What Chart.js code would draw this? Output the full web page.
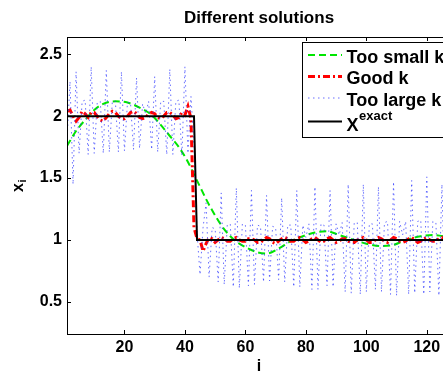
<!DOCTYPE html>
<html>
<head>
<meta charset="utf-8">
<script src="https://cdn.jsdelivr.net/npm/chart.js@4.4.1/dist/chart.umd.min.js"></script>
<style>
  html, body { margin: 0; padding: 0; background: #fff; overflow: hidden; }
  #wrap { width: 443px; height: 372px; overflow: hidden; }
</style>
</head>
<body>
<div id="wrap"><canvas id="chart" width="455" height="372"></canvas></div>
<script>
// ticks
const xTicks = [20, 40, 60, 80, 100, 120];
const yTicks = [0.5, 1, 1.5, 2, 2.5];

// exact solution (step)
const exactI = [1, 43, 44, 128];
const exactX = [2, 2, 1, 1];

// too small k (smooth curve, read at a few points)
const smallI = [1, 4, 7, 10, 13, 17, 21, 25, 29, 32, 35, 38, 41, 43, 45, 47, 49, 52, 55, 58,
  61, 64, 67, 71, 75, 79, 83, 87, 91, 96, 100, 105, 109, 113, 118, 122, 128];
const smallX = [1.76, 1.88, 1.97, 2.05, 2.10, 2.12, 2.11, 2.07, 2.01, 1.93, 1.84, 1.75, 1.63, 1.53, 1.43, 1.33, 1.24, 1.12, 1.03, 0.97,
  0.93, 0.90, 0.89, 0.93, 0.99, 1.03, 1.06, 1.07, 1.04, 1.00, 0.97, 0.95, 0.96, 1.00, 1.03, 1.04, 1.02];

// good k, i = 1..128
const goodX = [
  2.04, 2.05, 2.00, 1.96, 1.99, 2.04, 2.02, 1.99, 2.03, 2.03,
  2.00, 1.97, 1.96, 1.99, 2.02, 2.04, 2.03, 2.00, 1.98, 1.98,
  2.00, 2.03, 2.04, 2.02, 1.99, 1.98, 1.99, 2.02, 2.03, 2.02,
  1.99, 1.98, 2.00, 2.03, 2.03, 2.01, 1.98, 1.99, 2.03, 2.01,
  2.08, 1.98, 1.10, 1.01, 1.00, 0.91, 0.97, 1.02, 1.01, 0.98,
  1.00, 1.02, 1.01, 0.99, 0.99, 1.01, 1.02, 1.00, 0.99, 0.99,
  1.01, 1.01, 1.00, 0.98, 0.98, 1.00, 1.02, 1.01, 0.98, 0.97,
  0.99, 1.01, 1.02, 1.01, 0.99, 0.99, 1.01, 1.02, 1.00, 0.98,
  0.99, 1.01, 1.02, 1.00, 0.98, 0.99, 1.01, 1.02, 1.00, 0.98,
  0.99, 1.01, 1.01, 0.99, 0.98, 0.98, 1.00, 1.01, 1.02, 1.00,
  0.98, 0.98, 1.00, 1.02, 1.01, 0.99, 0.98, 1.00, 1.02, 1.01,
  0.99, 0.98, 0.99, 1.01, 1.02, 1.00, 0.98, 0.99, 1.01, 1.02,
  1.00, 0.99, 0.99, 1.01, 1.02, 1.00, 0.99, 1.01
];

// too large k, i = 1..128
const largeX = [
  1.80, 2.28, 1.45, 2.36, 1.70, 2.12, 2.13, 1.69, 2.40, 1.70,
  2.11, 2.12, 1.70, 2.37, 1.71, 2.12, 2.12, 1.71, 2.36, 1.72,
  2.11, 2.11, 1.73, 2.31, 1.74, 2.10, 2.02, 2.12, 1.73, 2.32,
  1.71, 2.12, 2.12, 1.69, 2.38, 1.69, 2.12, 2.13, 1.68, 2.40,
  1.70, 2.16, 1.75, 1.06, 0.72, 1.10, 1.30, 0.70, 1.10, 1.09,
  0.66, 1.38, 0.64, 1.12, 1.13, 0.62, 1.42, 0.61, 1.13, 1.12,
  0.63, 1.40, 0.64, 1.12, 1.11, 0.66, 1.36, 0.67, 1.11, 1.10,
  0.68, 1.34, 0.66, 1.12, 1.12, 0.62, 1.40, 0.62, 1.12, 1.02,
  1.13, 0.60, 1.43, 0.60, 1.13, 1.12, 0.63, 1.40, 0.62, 1.13,
  1.04, 1.14, 0.58, 1.45, 0.57, 1.14, 1.14, 0.56, 1.45, 0.58,
  1.13, 1.13, 0.60, 1.43, 0.58, 1.14, 1.15, 0.56, 1.47, 0.55,
  1.15, 1.04, 1.15, 0.56, 1.48, 0.57, 1.15, 1.16, 0.56, 1.51,
  0.58, 1.15, 1.14, 0.55, 1.45, 0.50, 1.14, 1.16
];

const idx = goodX.map((v, k) => k + 1);
const pairs = (xs, ys) => xs.map((x, k) => ({ x: x, y: ys[k] }));

const FONT = '"Liberation Sans", Arial, Helvetica, sans-serif';

// box, inward ticks, title, labels and legend
const frame = {
  id: 'frame',
  afterDraw(chart) {
    const c = chart.ctx;
    const a = chart.chartArea;
    const sx = chart.scales.x, sy = chart.scales.y;
    c.save();
    c.strokeStyle = '#000';
    c.lineWidth = 1;
    c.strokeRect(a.left + 0.5, a.top + 0.5, a.right - a.left - 1, a.bottom - a.top);
    c.beginPath();
    xTicks.forEach(v => {
      const px = Math.round(sx.getPixelForValue(v)) + 0.5;
      c.moveTo(px, a.bottom); c.lineTo(px, a.bottom - 4);
      c.moveTo(px, a.top); c.lineTo(px, a.top + 4);
    });
    yTicks.forEach(v => {
      const py = Math.round(sy.getPixelForValue(v)) + 0.5;
      c.moveTo(a.left, py); c.lineTo(a.left + 4, py);
    });
    c.stroke();

    c.fillStyle = '#000';
    // title
    c.font = 'bold 17px ' + FONT;
    c.textAlign = 'center';
    c.textBaseline = 'alphabetic';
    c.fillText('Different solutions', (a.left + a.right) / 2, 23);
    // x label
    c.font = 'bold 16px ' + FONT;
    c.fillText('i', (a.left + a.right) / 2, 371);
    // y label
    c.save();
    c.translate(23, 192);
    c.rotate(-Math.PI / 2);
    c.textAlign = 'left';
    c.fillText('x', 0, 0);
    c.font = 'bold 11px ' + FONT;
    c.fillText('i', 9.5, 3);
    c.restore();

    // legend
    const lx = 302.5, ly = 42.5;
    c.fillStyle = '#fff';
    c.fillRect(lx, ly, 150, 95);
    c.strokeStyle = '#000';
    c.strokeRect(lx, ly, 150, 95);
    const rows = [
      { ds: 0, text: 'Too small k', line: 55, base: 62.5 },
      { ds: 1, text: 'Good k', line: 76.5, base: 84 },
      { ds: 2, text: 'Too large k', line: 98, base: 105.5 },
      { ds: 3, text: 'X', line: 121.5, base: 130.5 }
    ];
    rows.forEach(r => {
      const d = chart.data.datasets[r.ds];
      c.save();
      c.strokeStyle = d.borderColor;
      c.lineWidth = d.borderWidth;
      c.setLineDash(d.borderDash || []);
      c.beginPath();
      c.moveTo(308, r.line); c.lineTo(342, r.line);
      c.stroke();
      c.restore();
      c.fillStyle = '#000';
      c.textAlign = 'left';
      c.font = 'bold 18px ' + FONT;
      c.fillText(r.text, 346.5, r.base);
    });
    c.font = 'bold 13px ' + FONT;
    c.fillText('exact', 359, 120);
    c.restore();
  }
};

new Chart(document.getElementById('chart'), {
  type: 'line',
  data: {
    datasets: [
      {
        label: 'Too small k',
        data: pairs(smallI, smallX),
        borderColor: '#00e600',
        borderWidth: 2,
        borderDash: [7, 4],
        cubicInterpolationMode: 'monotone',
        pointRadius: 0,
        order: 4,
      },
      {
        label: 'Good k',
        data: pairs(idx, goodX),
        borderColor: '#ff0000',
        borderWidth: 3,
        borderDash: [7, 3, 2, 3],
        pointRadius: 0,
        order: 3,
      },
      {
        label: 'Too large k',
        data: pairs(idx, largeX),
        borderColor: 'rgba(40, 50, 255, 0.7)',
        borderWidth: 1,
        borderDash: [1.5, 3.5],
        pointRadius: 0,
        order: 2,
      },
      {
        label: 'Xexact',
        data: pairs(exactI, exactX),
        borderColor: '#000000',
        borderWidth: 2,
        pointRadius: 0,
        order: 1,
      },
    ],
  },
  options: {
    responsive: false,
    animation: false,
    devicePixelRatio: 1,
    layout: { padding: { left: 0, top: 37, right: 4, bottom: 0 } },
    plugins: { legend: { display: false }, tooltip: { enabled: false }, title: { display: false } },
    scales: {
      x: {
        type: 'linear',
        min: 1,
        max: 128,
        afterFit: s => { s.height = 38; },
        afterBuildTicks: s => { s.ticks = xTicks.map(v => ({ value: v })); },
        grid: { display: false, drawTicks: false },
        border: { display: false },
        ticks: {
          color: '#000',
          font: { family: FONT, size: 16, weight: 'bold' },
          padding: 4,
          maxRotation: 0,
          autoSkip: false,
          callback: v => String(v),
        },
      },
      y: {
        type: 'linear',
        min: 0.24,
        max: 2.64,
        afterFit: s => { s.width = 67; },
        afterBuildTicks: s => { s.ticks = yTicks.map(v => ({ value: v })); },
        grid: { display: false, drawTicks: false },
        border: { display: false },
        ticks: {
          color: '#000',
          font: { family: FONT, size: 16, weight: 'bold' },
          padding: 5,
          autoSkip: false,
          callback: v => String(v),
        },
      },
    },
  },
  plugins: [frame],
});
</script>
</body>
</html>
